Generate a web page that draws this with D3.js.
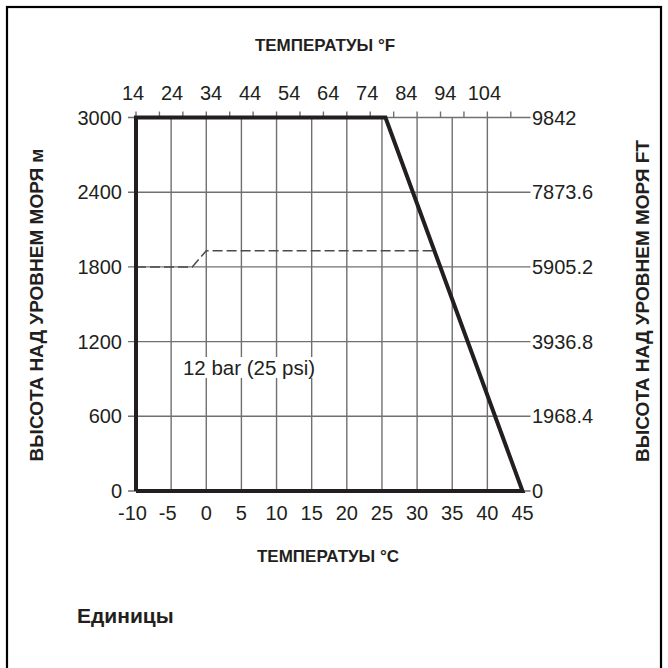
<!DOCTYPE html>
<html><head><meta charset="utf-8">
<script src="https://cdn.jsdelivr.net/npm/d3@7"></script>
<style>body{margin:0;background:#fff}svg{display:block}text{font-family:"Liberation Sans",Arial,sans-serif;fill:#231f20}</style>
</head><body><svg id="c" width="668" height="668"></svg>
<script>
// ---- data ----
const tempC = [-10,-5,0,5,10,15,20,25,30,35,40,45];
const tempFLabels = [14,24,34,44,54,64,74,84,94,104];
const tempFTicks = [14,20,26,32,38,44,50,56,62,68,74,80,86,92,98,104,110];
const altM = [0,600,1200,1800,2400,3000];
const altFt = ["0","1968.4","3936.8","5905.2","7873.6","9842"];
const envelopeC = [-10,-10,25.5,45,-10];
const envelopeM = [0,3000,3000,0,0];
const bar12C = [-10,-2,0,32.4];
const bar12M = [1800,1800,1930,1930];
const titleTop = "ТЕМПЕРАТУЫ °F";
const titleBottom = "ТЕМПЕРАТУЫ °C";
const titleLeft = "ВЫСОТА НАД УРОВНЕМ МОРЯ м";
const titleRight = "ВЫСОТА НАД УРОВНЕМ МОРЯ FT";
const curveLabel = "12 bar (25 psi)";
const footer = "Единицы";

const svg = d3.select("#c");
const x = d3.scaleLinear().domain([-10,45]).range([136,522.5]);
const xF = d3.scaleLinear().domain([14,113]).range([136,522.5]);
const y = d3.scaleLinear().domain([0,3000]).range([491,117.5]);
const gridCol = "#707070";

// frame
svg.append("rect").attr("x",7).attr("y",7).attr("width",654).attr("height",700)
  .attr("fill","none").attr("stroke","#000").attr("stroke-width",2.2);

// vertical grid
svg.append("g").selectAll("line").data(tempC.slice(1,-1)).join("line")
  .attr("x1",d=>x(d)).attr("x2",d=>x(d)).attr("y1",y(0)).attr("y2",y(3000))
  .attr("stroke",gridCol).attr("stroke-width",1.4);
// horizontal grid with outside ticks
svg.append("g").selectAll("line").data(altM).join("line")
  .attr("x1",x(-10)-8).attr("x2",x(45)+8).attr("y1",d=>y(d)).attr("y2",d=>y(d))
  .attr("stroke",gridCol).attr("stroke-width",1.4);
// top ticks (F)
svg.append("g").selectAll("line").data(tempFTicks).join("line")
  .attr("x1",d=>xF(d)).attr("x2",d=>xF(d)).attr("y1",y(3000)-6).attr("y2",y(3000))
  .attr("stroke",gridCol).attr("stroke-width",1.4);

// dashed 12 bar
const line = d3.line().x(d=>x(d[0])).y(d=>y(d[1]));
svg.append("path").datum(bar12C.map((c,i)=>[c,bar12M[i]])).attr("d",line)
  .attr("fill","none").attr("stroke","#4a4a4a").attr("stroke-width",1.5).attr("stroke-dasharray","10,4");

// envelope
svg.append("path").datum(envelopeC.map((c,i)=>[c,envelopeM[i]])).attr("d",line)
  .attr("fill","none").attr("stroke","#231f20").attr("stroke-width",4).attr("stroke-linejoin","miter");

// curve label with white background
const lg = svg.append("g");
const lt = lg.append("text").attr("x",249).attr("y",375).attr("text-anchor","middle")
  .attr("font-size",20.5).text(curveLabel);
const bb = lt.node().getBBox();
lg.insert("rect","text").attr("x",bb.x-2).attr("y",bb.y+1).attr("width",bb.width+4).attr("height",bb.height-2).attr("fill","#fff");

// axis labels
const fs = 20;
svg.append("g").selectAll("text").data(tempC).join("text")
  .attr("x",d=>x(d)-(d<0?3.5:0)).attr("y",520).attr("text-anchor","middle").attr("font-size",fs).text(d=>d);
svg.append("g").selectAll("text").data(tempFLabels).join("text")
  .attr("x",d=>xF(d)-3).attr("y",100).attr("text-anchor","middle").attr("font-size",fs).text(d=>d);
svg.append("g").selectAll("text").data(altM).join("text")
  .attr("x",122).attr("y",d=>y(d)+7).attr("text-anchor","end").attr("font-size",fs).text(d=>d);
svg.append("g").selectAll("text").data(altM).join("text")
  .attr("x",532).attr("y",d=>y(d)+7).attr("text-anchor","start").attr("font-size",fs).text((d,i)=>altFt[i]);

// titles
svg.append("text").attr("x",325).attr("y",51).attr("text-anchor","middle").attr("font-size",17).attr("font-weight","bold").text(titleTop);
svg.append("text").attr("x",328).attr("y",562).attr("text-anchor","middle").attr("font-size",17).attr("font-weight","bold").text(titleBottom);
svg.append("text").attr("transform","translate(43,305) rotate(-90)").attr("text-anchor","middle").attr("font-size",19).attr("font-weight","bold").text(titleLeft);
svg.append("text").attr("transform","translate(649,301) rotate(-90)").attr("text-anchor","middle").attr("font-size",19).attr("font-weight","bold").text(titleRight);
svg.append("text").attr("x",77).attr("y",623).attr("font-size",21).attr("font-weight","bold").text(footer);
</script></body></html>
